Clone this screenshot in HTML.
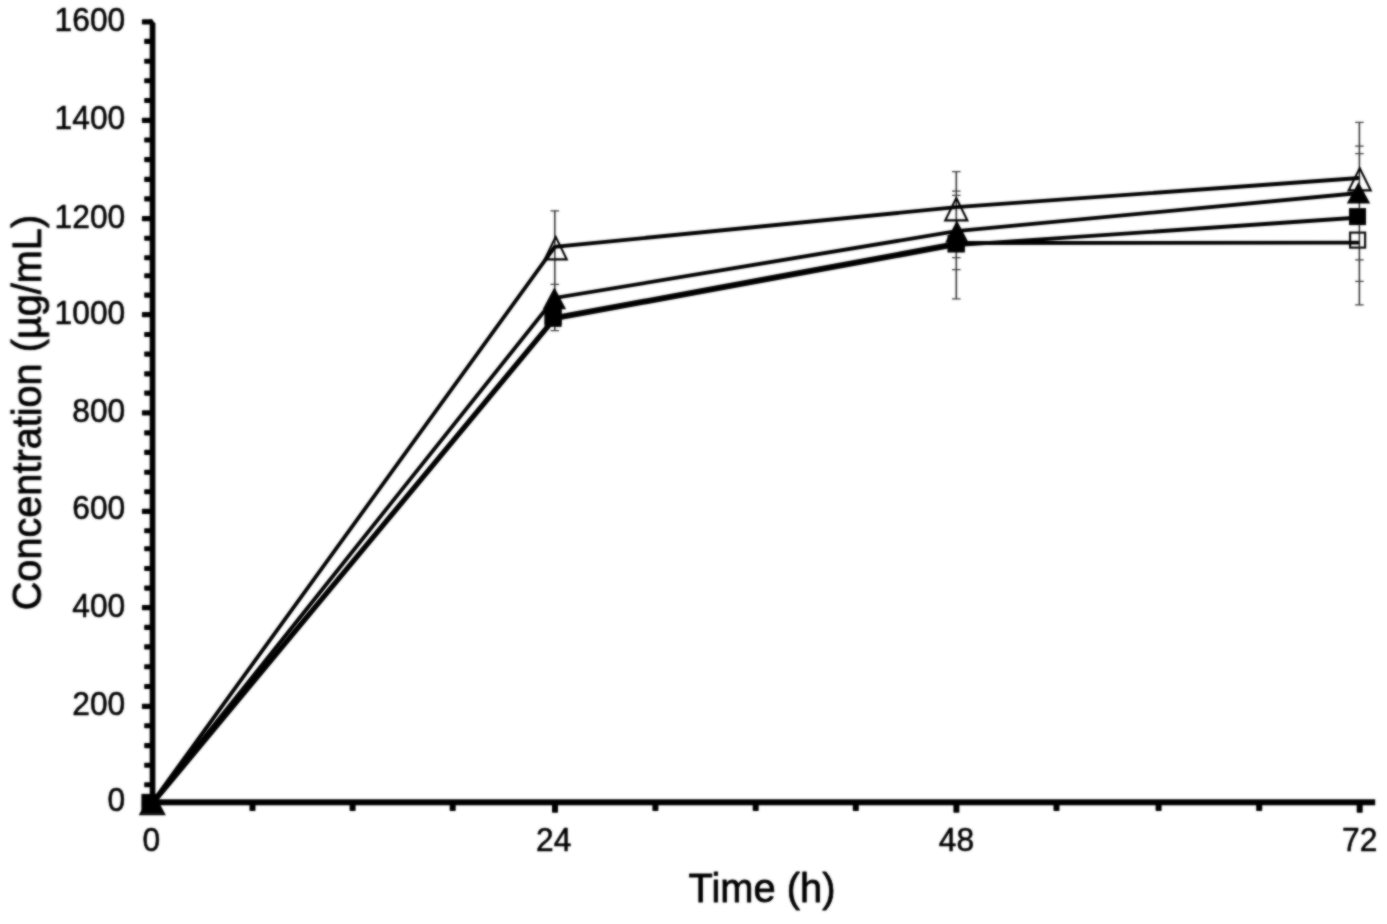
<!DOCTYPE html>
<html lang="en"><head><meta charset="utf-8"><title>Concentration vs Time</title>
<style>html,body{margin:0;padding:0;background:#fff}body{width:1387px;height:924px;overflow:hidden}svg{display:block}text{font-family:"Liberation Sans",Arial,Helvetica,sans-serif;fill:#000;stroke:#000;stroke-width:0.55px;stroke-linejoin:round}</style>
</head><body>
<svg width="1387" height="924" viewBox="0 0 1387 924">
<defs><filter id="soft" x="0" y="0" width="1387" height="924" filterUnits="userSpaceOnUse"><feGaussianBlur in="SourceGraphic" stdDeviation="1" result="b"/><feComposite in="SourceGraphic" in2="b" operator="arithmetic" k1="0" k2="0.3" k3="0.7" k4="0"/></filter></defs>
<rect width="1387" height="924" fill="#fff"/>
<g filter="url(#soft)">
<g fill="#000">
<path d="M149.70 805.30V19.2H151.80L155.40 23.4V805.30Z"/>
<rect x="149.70" y="799.30" width="1225.50" height="6.0"/>
<rect x="141.9" y="19.25" width="10.65" height="5.3" rx="0.8"/>
<rect x="144.2" y="38.85" width="8.35" height="5.1" rx="0.8"/>
<rect x="144.2" y="58.65" width="8.35" height="5.1" rx="0.8"/>
<rect x="144.2" y="78.25" width="8.35" height="5.1" rx="0.8"/>
<rect x="144.2" y="97.95" width="8.35" height="5.1" rx="0.8"/>
<rect x="141.9" y="117.65" width="10.65" height="5.3" rx="0.8"/>
<rect x="144.2" y="137.40" width="8.35" height="5.1" rx="0.8"/>
<rect x="144.2" y="157.05" width="8.35" height="5.1" rx="0.8"/>
<rect x="144.2" y="176.85" width="8.35" height="5.1" rx="0.8"/>
<rect x="144.2" y="196.35" width="8.35" height="5.1" rx="0.8"/>
<rect x="141.9" y="216.05" width="10.65" height="5.3" rx="0.8"/>
<rect x="144.2" y="235.65" width="8.35" height="5.1" rx="0.8"/>
<rect x="144.2" y="255.15" width="8.35" height="5.1" rx="0.8"/>
<rect x="144.2" y="273.15" width="8.35" height="5.1" rx="0.8"/>
<rect x="144.2" y="292.60" width="8.35" height="5.1" rx="0.8"/>
<rect x="141.9" y="312.05" width="10.65" height="5.3" rx="0.8"/>
<rect x="144.2" y="331.95" width="8.35" height="5.1" rx="0.8"/>
<rect x="144.2" y="351.55" width="8.35" height="5.1" rx="0.8"/>
<rect x="144.2" y="371.35" width="8.35" height="5.1" rx="0.8"/>
<rect x="144.2" y="390.55" width="8.35" height="5.1" rx="0.8"/>
<rect x="141.9" y="410.25" width="10.65" height="5.3" rx="0.8"/>
<rect x="144.2" y="430.35" width="8.35" height="5.1" rx="0.8"/>
<rect x="144.2" y="449.85" width="8.35" height="5.1" rx="0.8"/>
<rect x="144.2" y="469.65" width="8.35" height="5.1" rx="0.8"/>
<rect x="144.2" y="489.25" width="8.35" height="5.1" rx="0.8"/>
<rect x="141.9" y="508.65" width="10.65" height="5.3" rx="0.8"/>
<rect x="144.2" y="528.25" width="8.35" height="5.1" rx="0.8"/>
<rect x="144.2" y="546.15" width="8.35" height="5.1" rx="0.8"/>
<rect x="144.2" y="565.95" width="8.35" height="5.1" rx="0.8"/>
<rect x="144.2" y="585.55" width="8.35" height="5.1" rx="0.8"/>
<rect x="141.9" y="604.95" width="10.65" height="5.3" rx="0.8"/>
<rect x="144.2" y="624.85" width="8.35" height="5.1" rx="0.8"/>
<rect x="144.2" y="644.35" width="8.35" height="5.1" rx="0.8"/>
<rect x="144.2" y="664.20" width="8.35" height="5.1" rx="0.8"/>
<rect x="144.2" y="683.95" width="8.35" height="5.1" rx="0.8"/>
<rect x="141.9" y="703.65" width="10.65" height="5.3" rx="0.8"/>
<rect x="144.2" y="723.15" width="8.35" height="5.1" rx="0.8"/>
<rect x="144.2" y="743.05" width="8.35" height="5.1" rx="0.8"/>
<rect x="144.2" y="762.65" width="8.35" height="5.1" rx="0.8"/>
<rect x="144.2" y="782.15" width="8.35" height="5.1" rx="0.8"/>
<rect x="141.9" y="801.65" width="10.65" height="5.3" rx="0.8"/>
<rect x="249.50" y="802.3" width="6.0" height="8.80" rx="0.8"/>
<rect x="349.60" y="802.3" width="6.0" height="8.80" rx="0.8"/>
<rect x="449.70" y="802.3" width="6.0" height="8.80" rx="0.8"/>
<rect x="552.00" y="802.3" width="6.0" height="10.40" rx="0.8"/>
<rect x="652.40" y="802.3" width="6.0" height="8.80" rx="0.8"/>
<rect x="752.70" y="802.3" width="6.0" height="8.80" rx="0.8"/>
<rect x="852.80" y="802.3" width="6.0" height="8.80" rx="0.8"/>
<rect x="953.40" y="802.3" width="6.0" height="10.40" rx="0.8"/>
<rect x="1053.50" y="802.3" width="6.0" height="8.80" rx="0.8"/>
<rect x="1155.60" y="802.3" width="6.0" height="8.80" rx="0.8"/>
<rect x="1256.20" y="802.3" width="6.0" height="8.80" rx="0.8"/>
<rect x="1356.70" y="802.3" width="6.0" height="10.40" rx="0.8"/>
</g>
<g font-size="33.6" text-anchor="end">
<text transform="translate(125.2 30.9) scale(0.945 1)">1600</text>
<text transform="translate(125.2 129.2) scale(0.945 1)">1400</text>
<text transform="translate(125.2 227.6) scale(0.945 1)">1200</text>
<text transform="translate(125.2 323.6) scale(0.945 1)">1000</text>
<text transform="translate(125.2 421.8) scale(0.945 1)">800</text>
<text transform="translate(125.2 518.8) scale(0.945 1)">600</text>
<text transform="translate(125.2 616.5) scale(0.945 1)">400</text>
<text transform="translate(125.2 714.9) scale(0.945 1)">200</text>
<text transform="translate(125.2 810.9) scale(0.945 1)">0</text>
</g>
<g font-size="33.6" text-anchor="middle">
<text transform="translate(151.3 851.3) scale(0.945 1)">0</text>
<text transform="translate(553.7 851.3) scale(0.945 1)">24</text>
<text transform="translate(956.4 851.3) scale(0.945 1)">48</text>
<text transform="translate(1359.7 851.3) scale(0.945 1)">72</text>
</g>
<text transform="translate(762.0 901.9) scale(0.972 1)" font-size="41" text-anchor="middle" style="stroke-width:0.8px">Time (h)</text>
<text transform="translate(40.8 412.6) rotate(-90) scale(0.968 1)" font-size="41" text-anchor="middle" style="stroke-width:0.8px">Concentration (µg/mL)</text>
<g fill="none">
<path d="M554.8 210.8V330.6" stroke="#2b2b2b" stroke-width="1.5"/><path d="M550.5 210.8H559.0999999999999M550.5 284.4H559.0999999999999M550.5 330.6H559.0999999999999" stroke="#3a3a3a" stroke-width="1.25"/>
<path d="M956.3 171.6V298.9" stroke="#2b2b2b" stroke-width="1.5"/><path d="M952.0 171.6H960.5999999999999M952.0 191.2H960.5999999999999M952.0 195.4H960.5999999999999M952.0 257.7H960.5999999999999M952.0 269.5H960.5999999999999M952.0 298.9H960.5999999999999" stroke="#3a3a3a" stroke-width="1.25"/>
<path d="M1359.4 122.4V304.9" stroke="#2b2b2b" stroke-width="1.5"/><path d="M1355.1000000000001 122.4H1363.7M1355.1000000000001 146H1363.7M1355.1000000000001 153.6H1363.7M1355.1000000000001 259.8H1363.7M1355.1000000000001 281.4H1363.7M1355.1000000000001 304.9H1363.7" stroke="#3a3a3a" stroke-width="1.25"/>
</g>
<g fill="none" stroke="#000" stroke-width="3.8" stroke-linejoin="miter">
<polyline points="153.3,803.4 554.8,319.2 956.3,245.2 1359.4,217.5"/>
<polyline points="152.4,802.3 554.8,317.0 956.3,243.0 1359.4,242.6"/>
<polyline points="152.4,802.3 554.8,298.0 956.3,231.1 1359.4,193.0"/>
<polyline points="152.4,802.3 554.8,246.8 956.3,207.2 1359.4,178.0"/>
</g>
<g>
<rect x="141.40" y="793.90" width="17.0" height="17.0" fill="#000"/>
<path d="M152.3 792.5L164.0 813.5H140.60000000000002Z" fill="#000"/>
<path d="M152.3 791.9L164.10000000000002 814.2H140.5Z" fill="none" stroke="#000" stroke-width="2.1" stroke-linejoin="miter"/>
<rect x="544.60" y="309.90" width="17.0" height="17.0" fill="#000"/>
<rect x="545.60" y="309.00" width="15.0" height="15.0" fill="#fff" fill-opacity="0" stroke="#000" stroke-width="2.1"/>
<path d="M554.4 287.2L566.1 309.2H542.6999999999999Z" fill="#000"/>
<path d="M555.7 236.9L566.75 259.4H544.6500000000001Z" fill="none" stroke="#000" stroke-width="2.1" stroke-linejoin="miter"/>
<rect x="947.70" y="235.30" width="17.0" height="17.0" fill="#000"/>
<rect x="948.70" y="236.30" width="15.0" height="15.0" fill="#fff" fill-opacity="0" stroke="#000" stroke-width="2.1"/>
<path d="M956.9 220.6L968.6 242.5H945.1999999999999Z" fill="#000"/>
<path d="M956.3 198.0L967.3499999999999 220.39999999999998H945.25Z" fill="none" stroke="#000" stroke-width="2.1" stroke-linejoin="miter"/>
<rect x="1349.00" y="208.10" width="17.0" height="17.0" fill="#000"/>
<rect x="1350.10" y="232.60" width="15.0" height="15.0" fill="#fff" fill-opacity="0" stroke="#000" stroke-width="2.1"/>
<path d="M1358.5 182.0L1370.2 203.4H1346.8Z" fill="#000"/>
<path d="M1359.7 168.29999999999998L1370.75 190.39999999999998H1348.65Z" fill="none" stroke="#000" stroke-width="2.1" stroke-linejoin="miter"/>
</g>
</g>
</svg></body></html>
